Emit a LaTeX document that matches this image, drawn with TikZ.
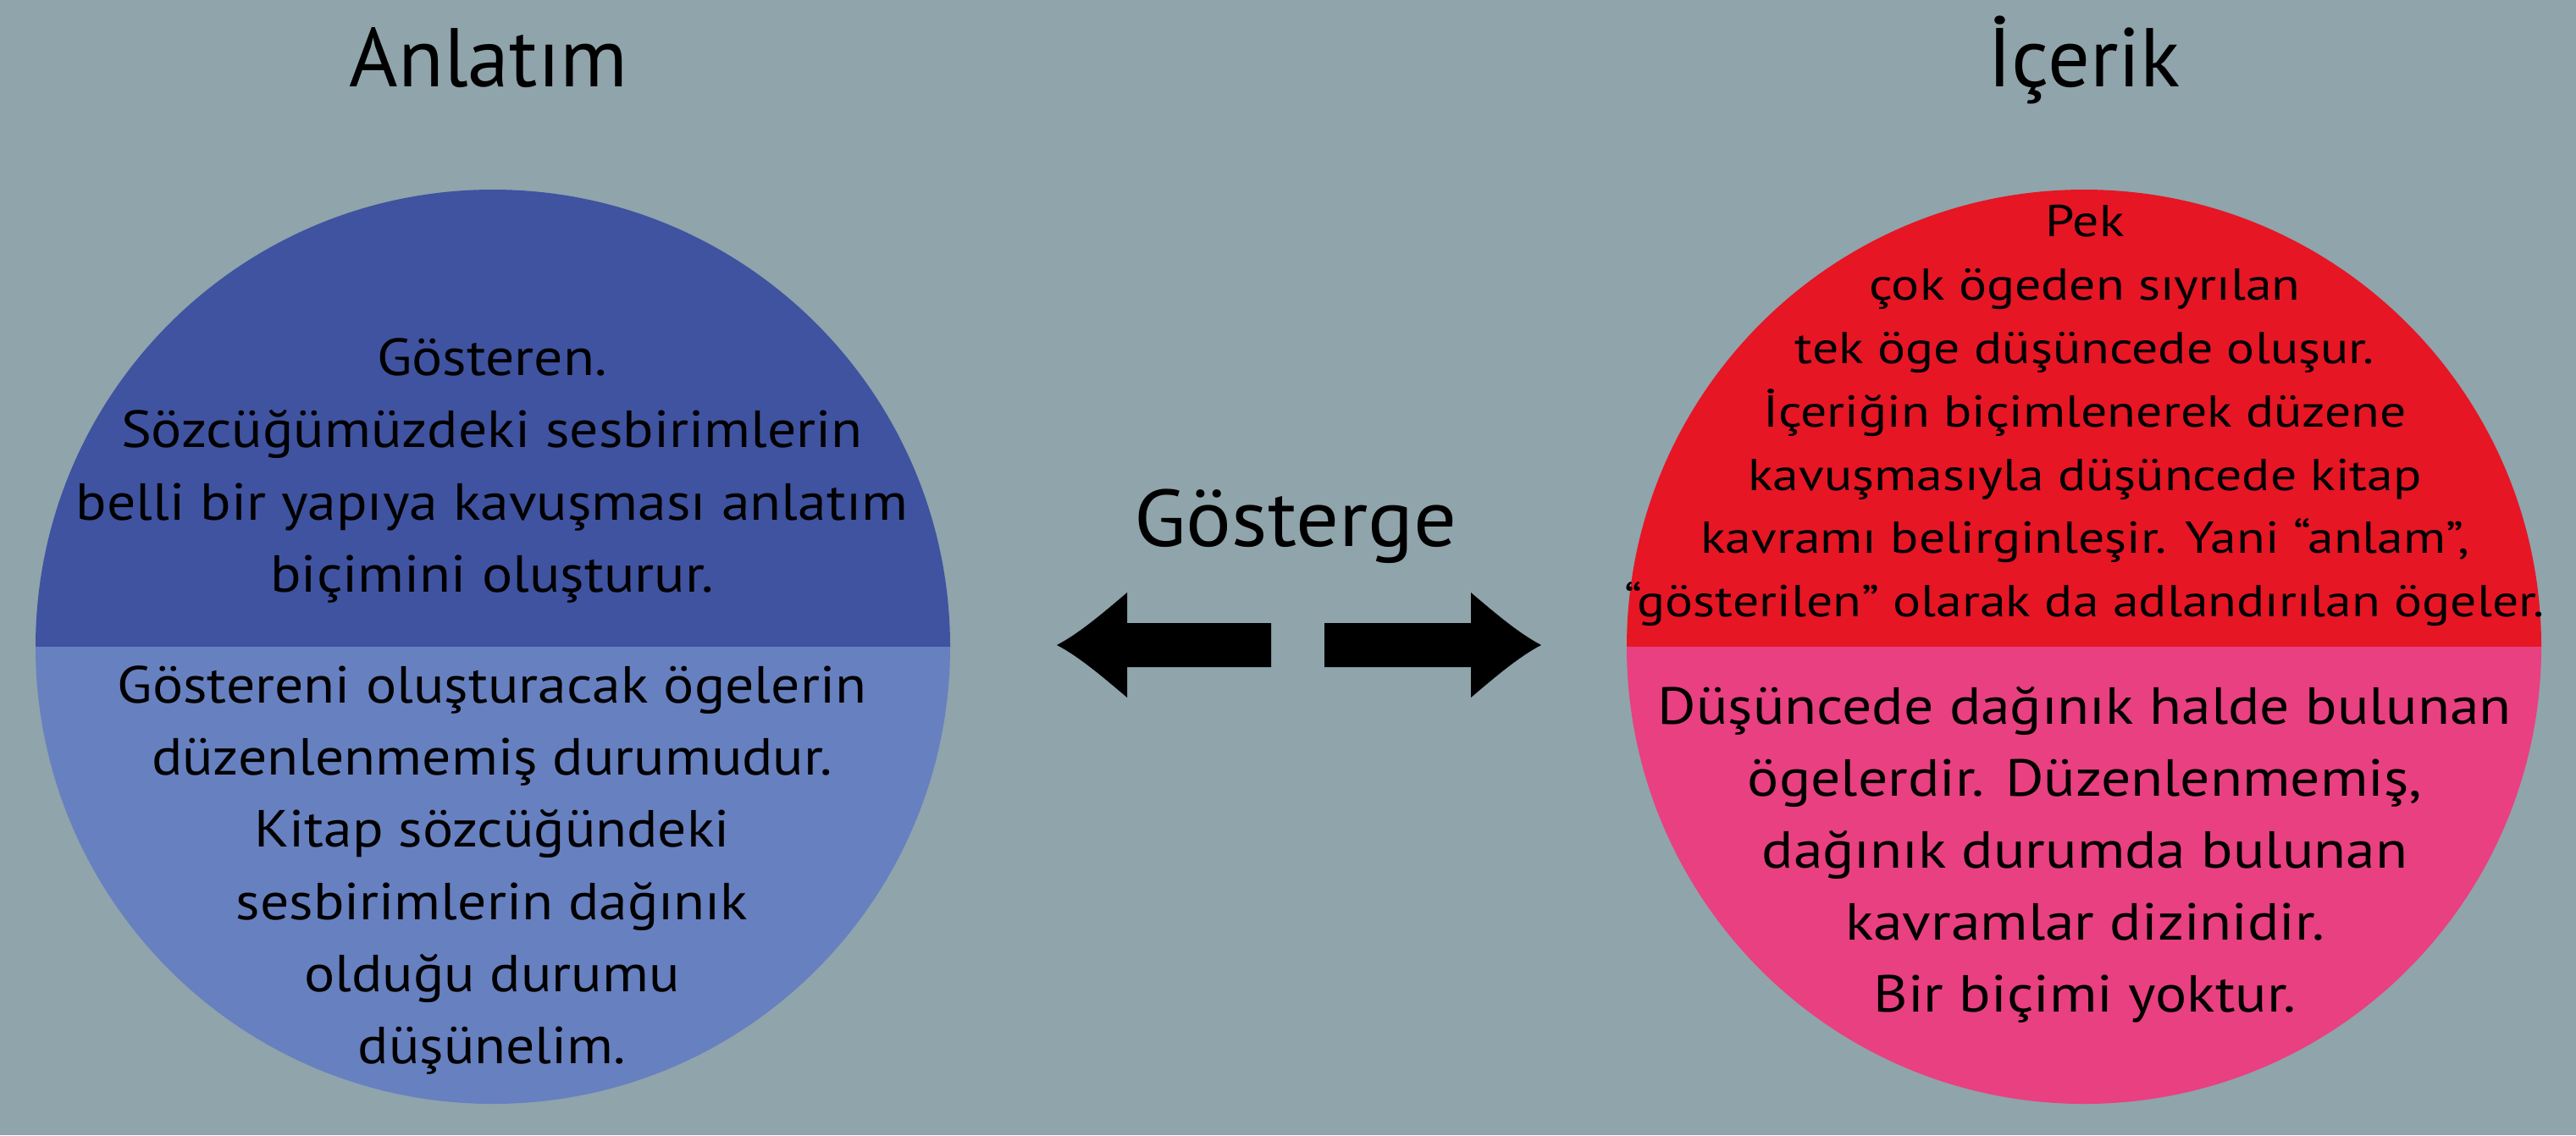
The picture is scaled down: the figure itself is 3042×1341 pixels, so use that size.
\documentclass[tikz,border=0pt]{standalone}
\usepackage{fontspec}
\setmainfont{PT Sans}
\newfontfamily\widefont{PT Sans}[FakeStretch=1.10]
\newfontfamily\widerfont{PT Sans}[FakeStretch=1.13]
\newfontfamily\widestfont{PT Sans}[FakeStretch=1.17]
\newfontfamily\signfont{PT Sans}[FakeStretch=1.06]

\definecolor{bggray}{RGB}{143,164,171}
\definecolor{darkblue}{RGB}{63,83,160}
\definecolor{lightblue}{RGB}{103,128,192}
\definecolor{signred}{RGB}{230,22,37}
\definecolor{signpink}{RGB}{232,64,128}

\tikzset{
  titletext/.style={anchor=base, font=\fontsize{28}{34}\selectfont},
  bodytext/.style={align=center, font=\widefont\fontsize{17.5}{24.2}\selectfont},
  smalltext/.style={align=center, font=\widestfont\fontsize{15}{21.3}\selectfont},
}

\begin{document}
\begin{tikzpicture}[x=0.01cm, y=-0.01cm]
            % Draw the background
            \fill[bggray] (0,0) rectangle (3042,1341);
            \useasboundingbox (0,0) rectangle (3042,1341);

            % Draw the left circle (two halves)
            \fill[darkblue] (42,764) arc[start angle=180, end angle=360, radius=540] -- cycle;
            \fill[lightblue] (42,764) arc[start angle=180, end angle=0, radius=540] -- cycle;

            % Draw the right circle (two halves)
            \fill[signred] (1921,764) arc[start angle=180, end angle=360, radius=540] -- cycle;
            \fill[signpink] (1921,764) arc[start angle=180, end angle=0, radius=540] -- cycle;

            % Titles
            \node[titletext] (anlatim) at (577,102) {Anlatım};
            \node[titletext] (icerik) at (2461,102) {İçerik};
            \node[titletext, font=\signfont\fontsize{27}{32}\selectfont] (gosterge) at (1530,645) {Gösterge};

            % Texts of the left circle
            \node[bodytext] (gosteren) at (581,556) {Gösteren.\\
                Sözcüğümüzdeki sesbirimlerin\\
                belli bir yapıya kavuşması anlatım\\
                biçimini oluşturur.};
            \node[bodytext] (duzensiz) at (581,1028) {Göstereni oluşturacak ögelerin\\
                düzenlenmemiş durumudur.\\
                Kitap sözcüğündeki\\
                sesbirimlerin dağınık\\
                olduğu durumu\\
                düşünelim.};

            % Texts of the right circle
            \node[smalltext] (gosterilen) at (2462,491) {Pek\\
                çok ögeden sıyrılan\\
                tek öge düşüncede oluşur.\\
                İçeriğin biçimlenerek düzene\\
                kavuşmasıyla düşüncede kitap\\
                kavramı belirginleşir. Yani “anlam”,\\
                “gösterilen” olarak da adlandırılan ögeler.};
            \node[bodytext, font=\widerfont\fontsize{17.5}{24.2}\selectfont] (kavramlar) at (2462,1010) {Düşüncede dağınık halde bulunan\\
                ögelerdir. Düzenlenmemiş,\\
                dağınık durumda bulunan\\
                kavramlar dizinidir.\\
                Bir biçimi yoktur.};

            % Draw the two arrows
            \coordinate (ltip) at (1248,762);
            \coordinate (rtip) at (1820,762);
            \fill[black] (ltip) .. controls (1275,748) and (1305,722) .. (1331,700)
                -- (1331,736) -- (1501,736) -- (1501,788) -- (1331,788) -- (1331,824)
                .. controls (1305,802) and (1275,776) .. (ltip) -- cycle;
            \fill[black] (rtip) .. controls (1793,748) and (1763,722) .. (1737,700)
                -- (1737,736) -- (1564,736) -- (1564,788) -- (1737,788) -- (1737,824)
                .. controls (1763,802) and (1793,776) .. (rtip) -- cycle;
\end{tikzpicture}
\end{document}
